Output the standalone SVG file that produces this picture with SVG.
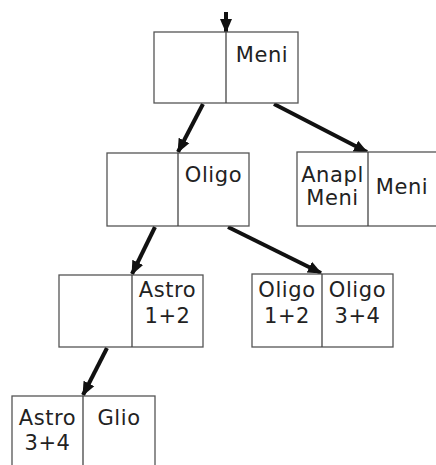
<svg xmlns="http://www.w3.org/2000/svg" width="436" height="465" viewBox="0 0 436 465">
<style>
.box{fill:#fff;stroke:#555;stroke-width:1.3}
.div{stroke:#444;stroke-width:1.3}
.t{font-family:"DejaVu Sans","Liberation Sans",sans-serif;font-size:21px;letter-spacing:0.6px;fill:#222;text-anchor:middle}
.arr{stroke:#111;stroke-width:4;fill:none;marker-end:url(#ah)}
</style>
<defs>
<marker id="ah" markerUnits="userSpaceOnUse" markerWidth="14" markerHeight="14" viewBox="0 0 14 14" refX="13" refY="7" orient="auto">
<path d="M0,1 L14,7 L0,13 Z" fill="#111"/>
</marker>
</defs>
<rect width="436" height="465" fill="#fff"/>
<g id="connectors">
<line class="arr" x1="226" y1="12" x2="226" y2="32"/>
<line class="arr" x1="203" y1="104" x2="178" y2="152"/>
<line class="arr" x1="274" y1="104" x2="367" y2="152"/>
<line class="arr" x1="155" y1="227" x2="132" y2="274"/>
<line class="arr" x1="228" y1="227" x2="321" y2="273"/>
<line class="arr" x1="107" y1="348" x2="83" y2="395"/>
</g>
<g id="n_meni">
<rect class="box" x="154" y="32" width="144" height="71"/>
<line class="div" x1="226" y1="32" x2="226" y2="103"/>
<text class="t" x="262" y="62">Meni</text>
</g>
<g id="n_oligo">
<rect class="box" x="107" y="153" width="142" height="73"/>
<line class="div" x1="178" y1="153" x2="178" y2="226"/>
<text class="t" x="213.5" y="182">Oligo</text>
</g>
<g id="n_anapl">
<rect class="box" x="297" y="152" width="140" height="74"/>
<line class="div" x1="368" y1="152" x2="368" y2="226"/>
<text class="t" x="332.5" y="182">Anapl</text>
<text class="t" x="332.5" y="205">Meni</text>
<text class="t" x="402" y="194">Meni</text>
</g>
<g id="n_astro12">
<rect class="box" x="59" y="275" width="144" height="72"/>
<line class="div" x1="132" y1="275" x2="132" y2="347"/>
<text class="t" x="167.5" y="297">Astro</text>
<text class="t" x="167.5" y="323">1+2</text>
</g>
<g id="n_oligo1234">
<rect class="box" x="252" y="274" width="141" height="73"/>
<line class="div" x1="322" y1="274" x2="322" y2="347"/>
<text class="t" x="287" y="297">Oligo</text>
<text class="t" x="287" y="323">1+2</text>
<text class="t" x="357.5" y="297">Oligo</text>
<text class="t" x="357.5" y="323">3+4</text>
</g>
<g id="n_astro34">
<rect class="box" x="12" y="396" width="143" height="74"/>
<line class="div" x1="83" y1="396" x2="83" y2="470"/>
<text class="t" x="47.5" y="425">Astro</text>
<text class="t" x="47.5" y="450">3+4</text>
<text class="t" x="119" y="425">Glio</text>
</g>
</svg>
